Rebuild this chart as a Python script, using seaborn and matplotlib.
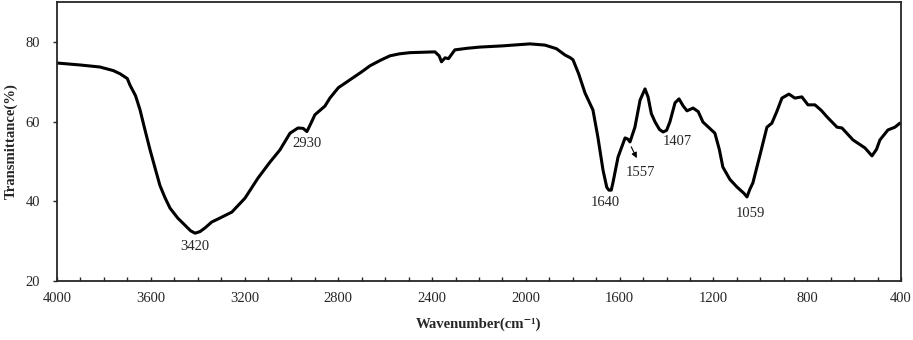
import pandas as pd
import seaborn as sns
import matplotlib.pyplot as plt
from matplotlib.ticker import MultipleLocator

# FTIR spectrum
wavenumber = [4000, 3900, 3817, 3760, 3731, 3700, 3689, 3665, 3646, 3625, 3603, 3580,
              3561, 3540, 3518, 3485, 3454, 3430, 3411, 3390, 3369, 3340, 3305, 3254,
              3198, 3143, 3092, 3049, 3006, 2972, 2950, 2934, 2915, 2900, 2857, 2836,
              2800, 2750, 2700, 2665, 2620, 2580, 2540, 2494, 2440, 2388, 2370, 2360,
              2345, 2330, 2303, 2250, 2196, 2100, 1983, 1919, 1870, 1833, 1810, 1799,
              1775, 1748, 1714, 1693, 1671, 1655, 1646, 1636, 1629, 1607, 1577, 1565,
              1556, 1535, 1513, 1492, 1479, 1465, 1449, 1430, 1415, 1400, 1386, 1364,
              1347, 1330, 1313, 1287, 1265, 1245, 1194, 1175, 1160, 1130, 1100, 1070,
              1057, 1045, 1032, 1000, 972, 951, 930, 908, 878, 853, 823, 797, 767,
              740, 716, 673, 652, 630, 605, 554, 524, 505, 490, 456, 426, 405]
transmittance = [74.7, 74.2, 73.7, 72.8, 72.0, 70.8, 69.2, 66.5, 63.0, 58.0, 52.9, 48.0,
                 44.0, 41.0, 38.3, 35.8, 34.0, 32.6, 32.0, 32.4, 33.3, 34.8, 35.8, 37.3,
                 40.8, 45.8, 49.8, 52.9, 57.1, 58.4, 58.3, 57.5, 59.8, 61.7, 63.9, 65.9,
                 68.5, 70.5, 72.5, 74.0, 75.4, 76.5, 77.0, 77.3, 77.4, 77.5, 76.5, 75.0,
                 76.0, 75.8, 78.0, 78.4, 78.7, 79.0, 79.5, 79.2, 78.3, 76.7, 76.0, 75.5,
                 72.0, 67.2, 62.9, 56.1, 47.8, 43.5, 42.8, 42.8, 44.6, 51.1, 55.9, 55.6,
                 54.9, 58.6, 65.4, 68.2, 66.2, 62.0, 59.9, 58.0, 57.4, 57.8, 59.9, 64.7,
                 65.7, 64.0, 62.7, 63.4, 62.5, 59.9, 57.1, 53.0, 48.6, 45.5, 43.6, 42.0,
                 41.1, 43.0, 44.6, 52.0, 58.6, 59.6, 62.5, 65.9, 66.9, 65.9, 66.2, 64.2,
                 64.2, 62.8, 61.2, 58.6, 58.4, 57.0, 55.4, 53.4, 51.4, 53.0, 55.4, 57.9,
                 58.6, 59.6]

peak_labels = ['3420', '2930', '1640', '1557', '1407', '1059']
peak_x = [3411, 2934, 1660, 1513, 1356, 1044]
peak_y = [28.6, 54.6, 39.8, 47.3, 55.0, 37.0]

df = pd.DataFrame({'wavenumber': wavenumber, 'transmittance': transmittance})

sns.set_style('ticks')
plt.rcParams['font.family'] = ['Liberation Serif', 'DejaVu Serif']

fig = plt.figure(figsize=(9.13, 3.4), dpi=100)
ax = fig.add_axes([0.0624, 0.1735, 0.9245, 0.8205])
sns.lineplot(data=df, x='wavenumber', y='transmittance', color='black',
             linewidth=2.2, ax=ax)

for lab, x, y in zip(peak_labels, peak_x, peak_y):
    ax.text(x, y, lab, ha='center', va='center', fontsize=10.5)

# little arrow pointing at the 1557 shoulder
ax.annotate('', xy=(1522, 50.2), xytext=(1556, 54.3),
            arrowprops=dict(arrowstyle='-|>', color='black', lw=0.8,
                            mutation_scale=8))

ax.set_xlim(4000, 400)
ax.set_ylim(20, 90)
ax.xaxis.set_major_locator(MultipleLocator(400))
ax.xaxis.set_minor_locator(MultipleLocator(100))
ax.set_yticks([20, 40, 60, 80])
ax.tick_params(axis='x', which='both', direction='in', length=3, width=1,
               labelsize=10.5, pad=8)
ax.tick_params(axis='y', direction='out', length=3, width=1, labelsize=10.5,
               pad=9)
for sp in ax.spines.values():
    sp.set_linewidth(1.3)

ax.set_xlabel('Wavenumber(cm⁻¹)', fontsize=10.6, fontweight='bold', labelpad=9)
ax.set_ylabel('Transmittance(%)', fontsize=10.6, fontweight='bold', labelpad=6)

plt.savefig('out.png', dpi=100)
